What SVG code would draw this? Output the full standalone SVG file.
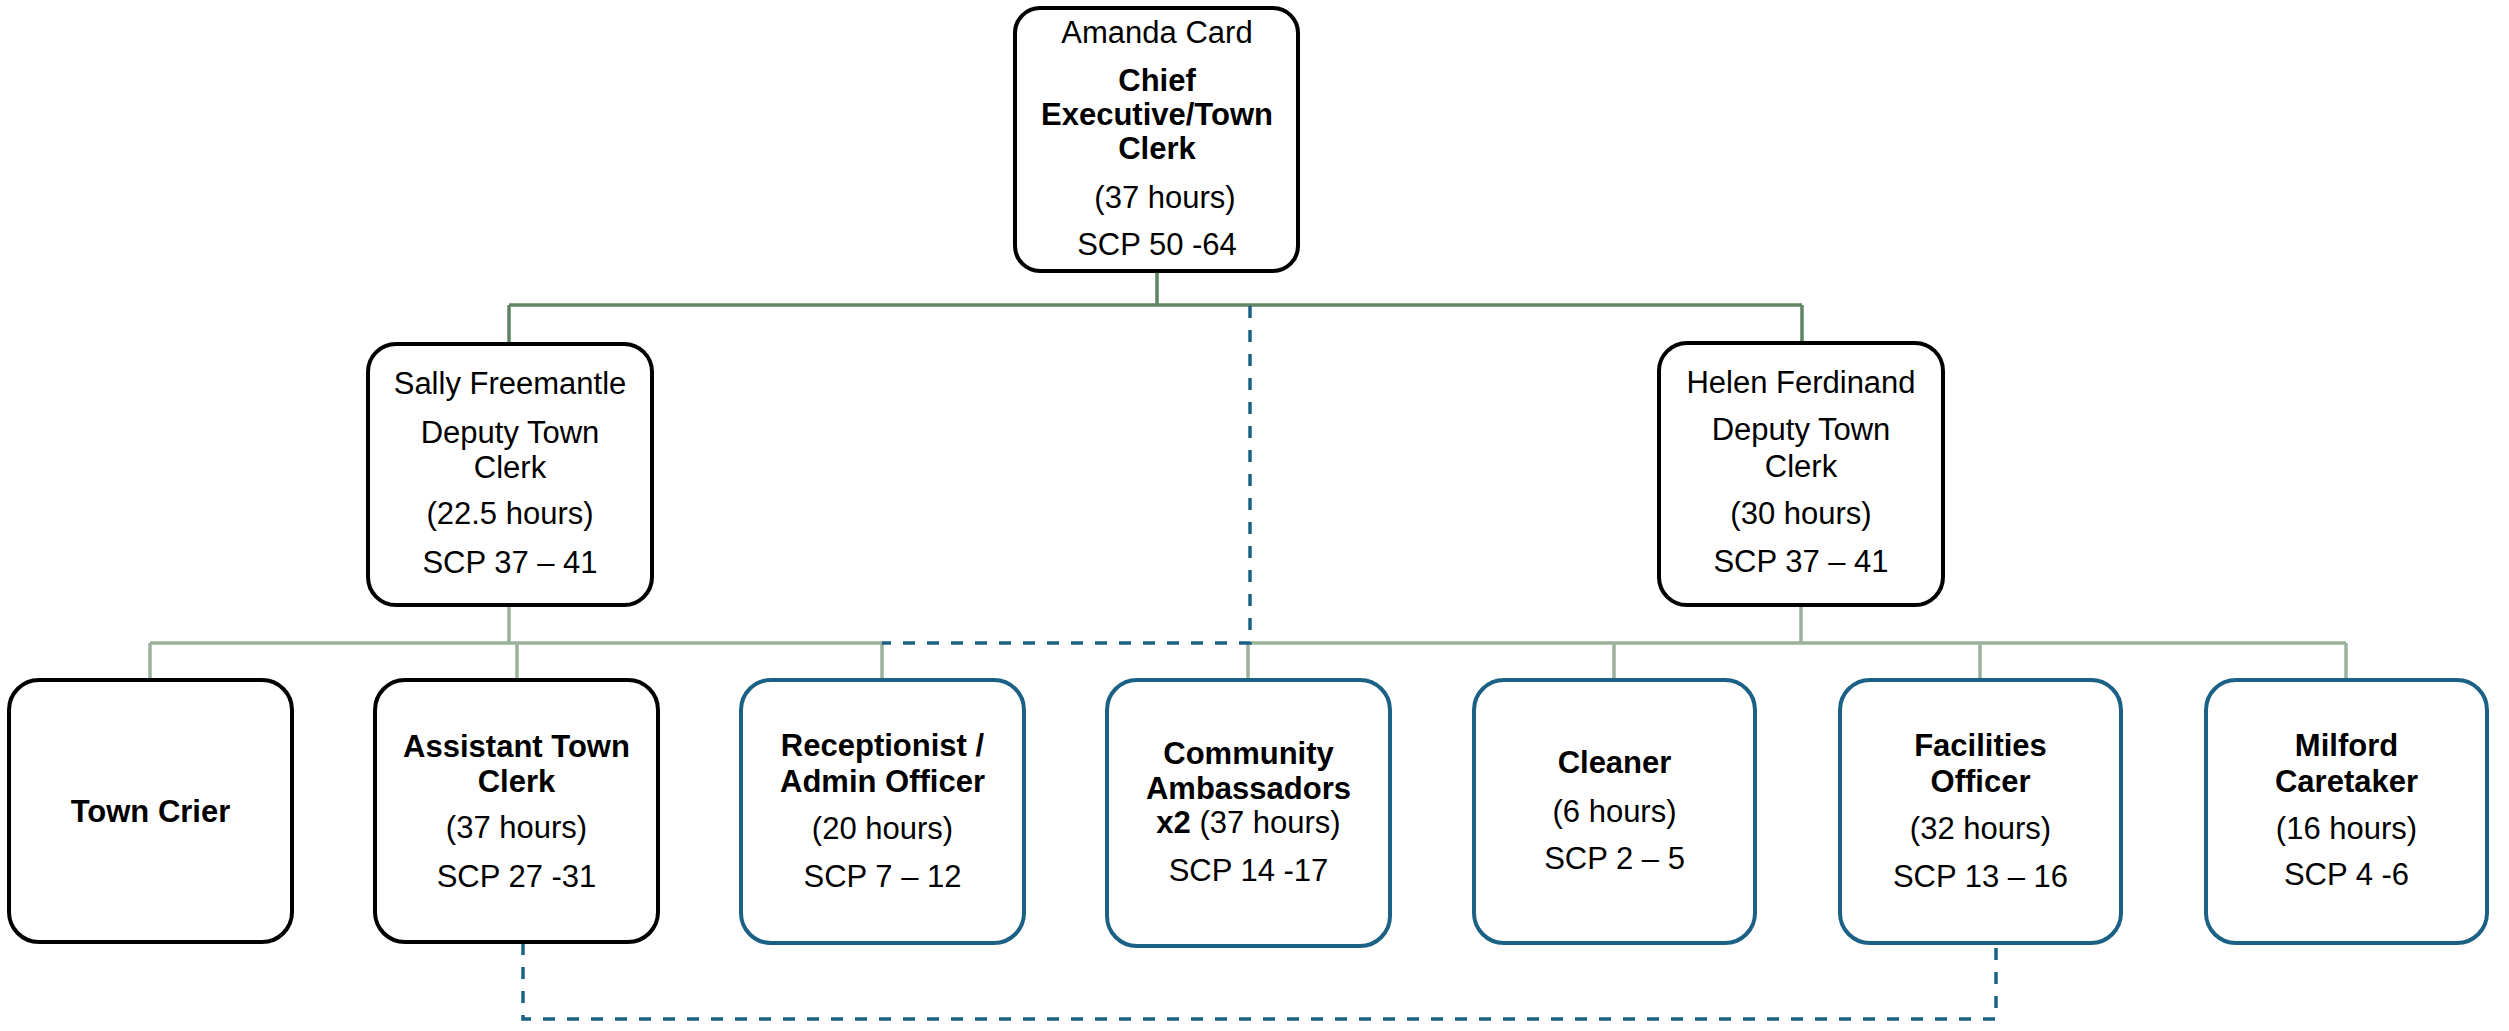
<svg xmlns="http://www.w3.org/2000/svg" width="2509" height="1031" viewBox="0 0 2509 1031">
<style>
text{font-family:"Liberation Sans",Arial,sans-serif;font-size:31px;fill:#000;text-anchor:middle}
.b{font-weight:bold}
.nb{fill:#fff;stroke:#000;stroke-width:4}
.nu{fill:#fff;stroke:#1B6185;stroke-width:4}
.g1{fill:none;stroke:#5E8664;stroke-width:3.5}
.g2{fill:none;stroke:#9AB19B;stroke-width:3.5}
.d{fill:none;stroke:#1B6185;stroke-width:3.5;stroke-dasharray:12 12}
</style>
<rect width="2509" height="1031" fill="#fff"/>
<g id="connectors">
<path class="g1" d="M1157 271V305M509 305H1802M509 305V344M1802 305V343"/>
<path class="g2" d="M509 605V643M1801 605V643M150 643H882M1250 643H2346M150 643V680M517 643V680M882 643V680M1248 643V680M1614 643V680M1980 643V680M2346 643V680"/>
<path class="d" d="M1250 306V643H882"/>
<path class="d" d="M523 943V1019H1996V943"/>
</g>
<g id="chief">
<rect class="nb" x="1015" y="8" width="283" height="263" rx="25"/>
<text x="1157" y="43">Amanda Card</text>
<text class="b" x="1157" y="91">Chief</text>
<text class="b" x="1157" y="125">Executive/Town</text>
<text class="b" x="1157" y="159">Clerk</text>
<text x="1165" y="208">(37 hours)</text>
<text x="1157" y="255">SCP 50 -64</text>
</g>
<g id="sally">
<rect class="nb" x="368" y="344" width="284" height="261" rx="28"/>
<text x="510" y="394">Sally Freemantle</text>
<text x="510" y="443">Deputy Town</text>
<text x="510" y="478">Clerk</text>
<text x="510" y="524">(22.5 hours)</text>
<text x="510" y="573">SCP 37 – 41</text>
</g>
<g id="helen">
<rect class="nb" x="1659" y="343" width="284" height="262" rx="28"/>
<text x="1801" y="393">Helen Ferdinand</text>
<text x="1801" y="440">Deputy Town</text>
<text x="1801" y="477">Clerk</text>
<text x="1801" y="524">(30 hours)</text>
<text x="1801" y="572">SCP 37 – 41</text>
</g>
<g id="town-crier">
<rect class="nb" x="9" y="680" width="283" height="262" rx="30"/>
<text class="b" x="150.5" y="822">Town Crier</text>
</g>
<g id="assistant">
<rect class="nb" x="375" y="680" width="283" height="262" rx="30"/>
<text class="b" x="516.5" y="757">Assistant Town</text>
<text class="b" x="516.5" y="792">Clerk</text>
<text x="516.5" y="838">(37 hours)</text>
<text x="516.5" y="887">SCP 27 -31</text>
</g>
<g id="receptionist">
<rect class="nu" x="741" y="680" width="283" height="263" rx="30"/>
<text class="b" x="882.5" y="756">Receptionist /</text>
<text class="b" x="882.5" y="792">Admin Officer</text>
<text x="882.5" y="839">(20 hours)</text>
<text x="882.5" y="887">SCP 7 – 12</text>
</g>
<g id="community">
<rect class="nu" x="1107" y="680" width="283" height="266" rx="30"/>
<text class="b" x="1248.5" y="764">Community</text>
<text class="b" x="1248.5" y="799">Ambassadors</text>
<text x="1248.5" y="833"><tspan class="b">x2</tspan> (37 hours)</text>
<text x="1248.5" y="881">SCP 14 -17</text>
</g>
<g id="cleaner">
<rect class="nu" x="1474" y="680" width="281" height="263" rx="30"/>
<text class="b" x="1614.5" y="773">Cleaner</text>
<text x="1614.5" y="822">(6 hours)</text>
<text x="1614.5" y="869">SCP 2 – 5</text>
</g>
<g id="facilities">
<rect class="nu" x="1840" y="680" width="281" height="263" rx="30"/>
<text class="b" x="1980.5" y="756">Facilities</text>
<text class="b" x="1980.5" y="792">Officer</text>
<text x="1980.5" y="839">(32 hours)</text>
<text x="1980.5" y="887">SCP 13 – 16</text>
</g>
<g id="milford">
<rect class="nu" x="2206" y="680" width="281" height="263" rx="30"/>
<text class="b" x="2346.5" y="756">Milford</text>
<text class="b" x="2346.5" y="792">Caretaker</text>
<text x="2346.5" y="839">(16 hours)</text>
<text x="2346.5" y="885">SCP 4 -6</text>
</g>
</svg>
